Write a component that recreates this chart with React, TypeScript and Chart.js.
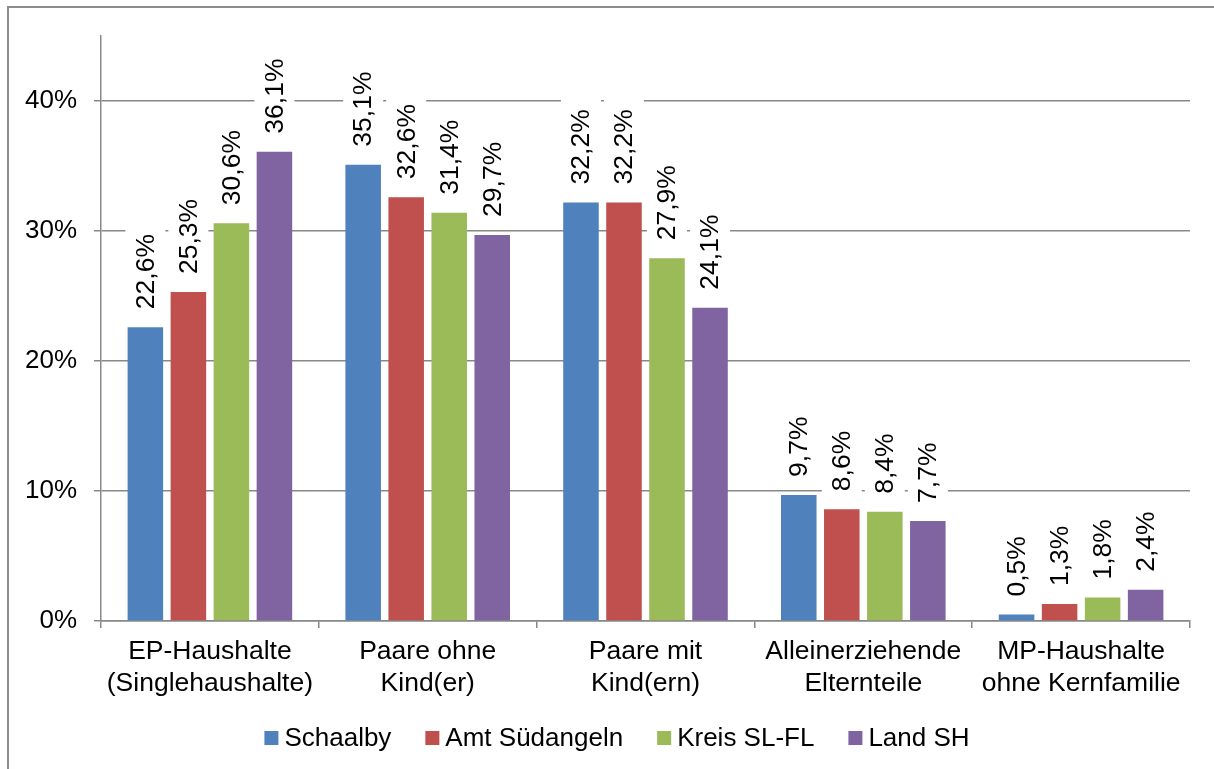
import React, { useEffect, useRef } from "react";
import { Chart, registerables } from "chart.js";

Chart.register(...registerables);

const categories: string[][] = [
  ["EP-Haushalte", "(Singlehaushalte)"],
  ["Paare ohne", "Kind(er)"],
  ["Paare mit", "Kind(ern)"],
  ["Alleinerziehende", "Elternteile"],
  ["MP-Haushalte", "ohne Kernfamilie"],
];
const seriesNames = ["Schaalby", "Amt Südangeln", "Kreis SL-FL", "Land SH"];
const schaalby = [22.6, 35.1, 32.2, 9.7, 0.5];
const amtSuedangeln = [25.3, 32.6, 32.2, 8.6, 1.3];
const kreisSLFL = [30.6, 31.4, 27.9, 8.4, 1.8];
const landSH = [36.1, 29.7, 24.1, 7.7, 2.4];
const seriesColors = ["#4F81BD", "#C0504D", "#9BBB59", "#8064A2"];
const yTicks = [0, 10, 20, 30, 40];
const yMax = 45;

const FONT = "'Liberation Sans', Arial, sans-serif";
const AXIS_COLOR = "#888888";

const fmt = (v: number) => v.toFixed(1).replace(".", ",") + "%";

const framePlugin = {
  id: "frame",
  afterDraw(chart: any) {
    const ctx = chart.ctx;
    ctx.save();
    ctx.strokeStyle = "#8c8c8c";
    ctx.lineWidth = 2;
    ctx.beginPath();
    ctx.moveTo(8, 769);
    ctx.lineTo(8, 7);
    ctx.lineTo(1214, 7);
    ctx.stroke();
    ctx.restore();
  },
};

const dataLabelPlugin = {
  id: "dataLabels",
  afterDatasetsDraw(chart: any) {
    const ctx = chart.ctx;
    ctx.save();
    ctx.font = `26.5px ${FONT}`;
    chart.data.datasets.forEach((ds: any, di: number) => {
      const meta = chart.getDatasetMeta(di);
      meta.data.forEach((el: any, i: number) => {
        const text = fmt(ds.data[i]);
        const w = ctx.measureText(text).width;
        const x = el.x;
        const top = el.y;
        const textBottom = top - 18;
        ctx.fillStyle = "#ffffff";
        ctx.fillRect(x - 20, textBottom - w - 10, 40, w + 20);
        ctx.save();
        ctx.translate(x + 1, textBottom);
        ctx.rotate(-Math.PI / 2);
        ctx.fillStyle = "#000000";
        ctx.textAlign = "left";
        ctx.textBaseline = "middle";
        ctx.fillText(text, 0, 0);
        ctx.restore();
      });
    });
    ctx.restore();
  },
};

const legendPlugin = {
  id: "customLegend",
  afterDraw(chart: any) {
    const ctx = chart.ctx;
    ctx.save();
    ctx.font = `26px ${FONT}`;
    const box = 14;
    const boxGap = 6;
    const itemGap = 34;
    const widths = seriesNames.map((n) => ctx.measureText(n).width);
    const total =
      widths.reduce((a, b) => a + b + box + boxGap, 0) + itemGap * (seriesNames.length - 1);
    let x = 617 - total / 2;
    const cy = 738;
    seriesNames.forEach((n, i) => {
      ctx.fillStyle = seriesColors[i];
      ctx.fillRect(x, cy - box / 2, box, box);
      x += box + boxGap;
      ctx.fillStyle = "#000000";
      ctx.textAlign = "left";
      ctx.textBaseline = "middle";
      ctx.fillText(n, x, cy + 1);
      x += widths[i] + itemGap;
    });
    ctx.restore();
  },
};

export default function App() {
  const canvasRef = useRef<HTMLCanvasElement | null>(null);

  useEffect(() => {
    if (!canvasRef.current) return;
    const seriesValues = [schaalby, amtSuedangeln, kreisSLFL, landSH];
    const chart = new Chart(canvasRef.current, {
      type: "bar",
      data: {
        labels: categories,
        datasets: seriesNames.map((name, i) => ({
          label: name,
          data: seriesValues[i],
          backgroundColor: seriesColors[i],
          borderWidth: 0,
          categoryPercentage: 0.79,
          barPercentage: 0.826,
        })),
      },
      options: {
        responsive: false,
        animation: false,
        devicePixelRatio: 1,
        layout: { padding: { top: 36, right: 24, left: 0, bottom: 0 } },
        plugins: {
          legend: { display: false },
          tooltip: { enabled: false },
        },
        scales: {
          x: {
            grid: {
              offset: true,
              drawOnChartArea: false,
              drawTicks: true,
              tickLength: 7,
              color: AXIS_COLOR,
              lineWidth: 1.5,
            },
            border: { color: AXIS_COLOR, width: 1.5 },
            ticks: {
              color: "#000000",
              font: { family: FONT, size: 26.5, lineHeight: 1.2075 },
              padding: 8,
              maxRotation: 0,
              minRotation: 0,
              autoSkip: false,
            },
            afterFit: (s: any) => {
              s.height = 148;
            },
          },
          y: {
            min: 0,
            max: yMax,
            grid: {
              color: AXIS_COLOR,
              lineWidth: 1.5,
              tickLength: 7,
              drawTicks: true,
            },
            border: { color: AXIS_COLOR, width: 1.5 },
            ticks: {
              color: "#000000",
              font: { family: FONT, size: 26 },
              padding: 17,
              callback: (v: any) => `${v}%`,
            },
            afterBuildTicks: (s: any) => {
              s.ticks = yTicks.map((v) => ({ value: v }));
            },
            afterFit: (s: any) => {
              s.width = 101;
            },
          },
        },
      },
      plugins: [dataLabelPlugin, legendPlugin, framePlugin],
    } as any);
    return () => chart.destroy();
  }, []);

  return (
    <div style={{ position: "absolute", left: 0, top: 0, width: 1214, height: 769, background: "#ffffff" }}>
      <canvas ref={canvasRef} width={1214} height={769} style={{ display: "block" }} />
    </div>
  );
}
